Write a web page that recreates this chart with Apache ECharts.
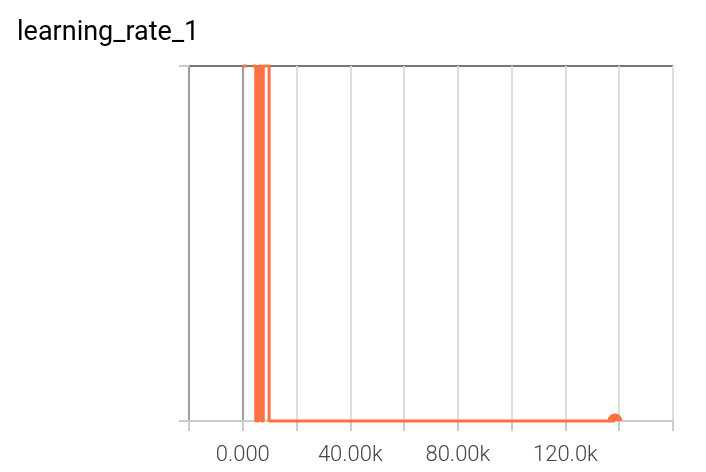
<!DOCTYPE html>
<html>
<head>
<meta charset="utf-8">
<script src="https://cdn.jsdelivr.net/npm/echarts@6/dist/echarts.min.js"></script>
<style>
  html, body { margin: 0; padding: 0; background: #fff; }
  #chart { width: 706px; height: 472px; }
</style>
</head>
<body>
<div id="chart"></div>
<script>
// step values (x) and learning rate (y, normalised 0..1); '-' breaks the line
const steps = [0, 1500, 2500, 3720, 4840, 4840, 5950, 5950, 6880, 6880, 7630, 7630, 9800, 9800, 138400];
const rates = [1, 1, '-', 1, 1, 0, 0, 1, 1, 0, 0, 1, 1, 0, 0];
const xLabelValues = [0, 40000, 80000, 120000];
const xLabelTexts = ['0.000', '40.00k', '80.00k', '120.0k'];

const chart = echarts.init(document.getElementById('chart'));

const seriesData = steps.map(function (s, i) {
  return [s, rates[i]];
});
// marker on the last point
const last = seriesData.length - 1;
seriesData[last] = {
  value: seriesData[last],
  symbol: 'path://M0,10 A10,10 0 0 1 20,10 Z',
  symbolSize: [15, 7.5],
  symbolOffset: [0, '-50%'],
};

chart.setOption({
  animation: false,
  title: {
    text: 'learning_rate_1',
    left: 12,
    top: 15,
    textStyle: {
      fontFamily: 'Roboto',
      fontSize: 27,
      fontWeight: 'normal',
      color: '#000',
    },
  },
  grid: {
    left: 189,
    right: 33,
    top: 66,
    bottom: 51,
  },
  xAxis: {
    type: 'value',
    min: -20000,
    max: 160000,
    interval: 20000,
    axisLine: {
      onZero: false,
      lineStyle: { color: '#cccccc', width: 2 },
    },
    axisTick: {
      length: 10,
      lineStyle: { color: '#cccccc', width: 2 },
    },
    axisLabel: {
      margin: 23,
      fontFamily: 'Roboto',
      fontSize: 22,
      fontWeight: 300,
      color: '#444',
      formatter: function (v) {
        const i = xLabelValues.indexOf(v);
        return i >= 0 ? xLabelTexts[i] : '';
      },
    },
    splitLine: {
      show: true,
      lineStyle: {
        color: ['#9e9e9e', '#9e9e9e', '#dddddd', '#dddddd', '#dddddd',
          '#dddddd', '#dddddd', '#dddddd', '#dddddd', '#dddddd'],
        width: 2,
      },
    },
  },
  yAxis: {
    type: 'value',
    min: 0,
    max: 1,
    interval: 1,
    axisLine: {
      show: true,
      onZero: false,
      lineStyle: { color: '#9e9e9e', width: 2 },
    },
    axisTick: {
      show: true,
      length: 10,
      lineStyle: { color: '#cccccc', width: 2 },
    },
    axisLabel: { show: false },
    splitLine: {
      show: true,
      lineStyle: { color: ['#cccccc', '#777777'], width: 2 },
    },
  },
  series: [
    {
      type: 'line',
      data: seriesData,
      symbol: 'none',
      connectNulls: false,
      clip: false,
      itemStyle: { color: '#ff7043' },
      lineStyle: { color: '#ff7043', width: 3 },
      z: 5,
    },
  ],
});
</script>
</body>
</html>
